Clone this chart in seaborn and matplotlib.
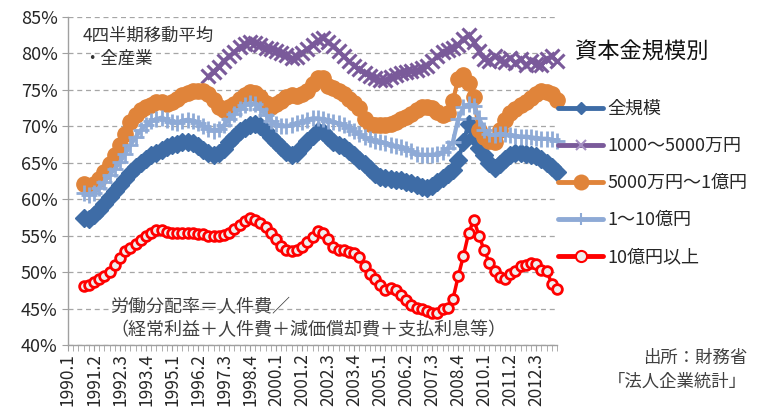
import matplotlib
matplotlib.use("Agg")
import pandas as pd
import matplotlib.pyplot as plt
import seaborn as sns
from matplotlib.lines import Line2D
from matplotlib.ticker import FuncFormatter, MultipleLocator

# 四半期ラベル（1990.1〜2013.3）
quarters = [f"{y}.{q}" for y in range(1990, 2014) for q in range(1, 5)][:95]

# 4四半期移動平均・全産業（%）
# 全規模: 1990.4〜
zenkibo = [57.4, 57.3, 57.8, 58.5, 59.4, 60.3, 61.1, 62.0, 62.8, 63.6,
           64.4, 65.0, 65.5, 66.0, 66.4, 66.8, 67.2, 67.4, 67.6, 67.8,
           67.9, 67.7, 67.3, 66.8, 66.3, 66.1, 66.3, 66.9, 67.8, 68.6,
           69.3, 69.8, 70.2, 70.3, 70.0, 69.4, 68.6, 67.8, 67.1, 66.5,
           66.1, 66.4, 67.2, 68.0, 68.7, 69.3, 69.2, 68.6, 67.9, 67.5,
           67.1, 66.6, 66.1, 65.4, 64.8, 64.1, 63.4, 63.1, 62.9, 62.8,
           62.7, 62.6, 62.4, 62.2, 62.0, 61.7, 61.5, 61.8, 62.3, 62.9,
           63.5, 64.0, 65.4, 67.8, 70.3, 68.5, 67.0, 66.0, 65.0, 64.3,
           64.8, 65.5, 66.0, 66.3, 66.3, 66.2, 66.0, 65.9, 65.5, 65.0,
           64.4, 63.8]

# 1000〜5000万円: 1996.4〜
sho = [76.9, 77.5, 78.2, 79.0, 79.6, 80.2, 80.9, 81.3, 81.6, 81.5,
       81.1, 80.8, 80.6, 80.3, 80.0, 79.8, 79.4, 79.5, 80.1, 80.6,
       81.2, 81.8, 82.1, 81.6, 81.0, 80.3, 79.6, 78.9, 78.3, 77.8,
       77.3, 76.9, 76.6, 76.4, 76.4, 76.7, 77.0, 77.3, 77.5, 77.6,
       77.7, 78.0, 78.3, 78.9, 79.6, 80.2, 80.5, 80.7, 81.2, 82.0,
       82.5, 81.6, 80.3, 79.3, 79.0, 79.6, 79.1, 78.8, 79.4, 78.7,
       79.2, 78.4, 79.0, 78.6, 78.4, 79.3, 79.6, 78.9]

# 5000万円〜1億円: 1990.4〜
chusho = [62.1, 61.8, 62.1, 62.8, 63.7, 64.8, 66.0, 67.5, 69.0, 70.6,
          71.6, 72.2, 72.6, 72.9, 73.3, 73.4, 73.0, 73.3, 73.8, 74.3,
          74.6, 74.8, 74.9, 74.9, 74.5, 73.6, 72.6, 72.3, 72.6, 73.1,
          73.7, 74.3, 74.7, 74.6, 74.0, 73.2, 72.7, 73.0, 73.5, 74.0,
          74.3, 74.2, 74.5, 74.9, 75.8, 76.6, 76.6, 75.6, 75.2, 74.9,
          74.5, 73.8, 73.2, 72.5, 71.0, 70.3, 70.2, 70.2, 70.2, 70.3,
          70.6, 71.0, 71.3, 71.7, 72.2, 72.6, 72.7, 72.5, 72.0, 71.6,
          71.8, 73.5, 76.5, 77.0, 76.0, 74.0, 69.5, 68.5, 68.0, 67.8,
          69.5, 70.9, 71.8, 72.4, 72.9, 73.4, 73.9, 74.4, 74.8, 74.7,
          74.4, 73.6]

# 1〜10億円: 1990.4〜
chuken = [60.8, 60.6, 60.9, 61.6, 62.4, 63.3, 64.2, 65.1, 66.2, 67.4,
          68.5, 69.5, 70.2, 70.7, 71.0, 71.2, 70.9, 70.6, 70.5, 70.8,
          70.9, 70.8, 70.5, 70.1, 69.7, 69.4, 69.6, 70.2, 71.0, 71.7,
          72.4, 72.9, 73.2, 73.1, 72.4, 71.6, 70.8, 70.3, 70.0, 70.0,
          70.2, 70.4, 70.6, 70.9, 71.1, 71.1, 71.0, 70.8, 70.6, 70.4,
          70.2, 69.8, 69.3, 68.9, 68.5, 68.2, 68.0, 67.9, 67.7, 67.5,
          67.3, 67.1, 66.9, 66.6, 66.2, 66.1, 66.1, 66.1, 66.2, 66.5,
          67.0, 67.9, 71.0, 72.6, 73.0, 72.8, 71.2, 69.5, 68.9, 68.8,
          69.0, 68.9, 68.8, 68.7, 68.6, 68.6, 68.5, 68.4, 68.3, 68.3,
          68.2, 68.0]

# 10億円以上: 1990.4〜
dai = [48.1, 48.2, 48.6, 49.0, 49.5, 50.0, 51.0, 52.0, 52.9, 53.3,
       53.9, 54.4, 54.9, 55.4, 55.8, 55.8, 55.5, 55.4, 55.4, 55.4,
       55.4, 55.3, 55.2, 55.2, 55.0, 54.9, 55.0, 55.1, 55.4, 55.9,
       56.4, 57.0, 57.4, 57.1, 56.7, 56.2, 55.4, 54.6, 53.6, 53.1,
       52.9, 53.1, 53.4, 54.1, 54.8, 55.7, 55.3, 54.5, 53.4, 53.1,
       53.1, 52.8, 52.6, 52.1, 50.8, 49.8, 49.0, 48.3, 47.6, 47.8,
       47.5, 46.8, 46.2, 45.5, 45.1, 45.0, 44.6, 44.4, 44.4, 45.0,
       45.1, 46.3, 49.4, 52.2, 55.3, 57.2, 55.0, 53.0, 51.3, 50.2,
       49.3, 49.0, 49.7, 50.2, 50.8, 51.0, 51.3, 51.1, 50.3, 50.2,
       48.4, 47.7]

labels = ["全規模", "1000〜5000万円", "5000万円〜1億円", "1〜10億円", "10億円以上"]
starts = ["1990.4", "1996.4", "1990.4", "1990.4", "1990.4"]
series = [zenkibo, sho, chusho, chuken, dai]

rows = []
for name, start, vals in zip(labels, starts, series):
    s = quarters.index(start)
    for i, v in enumerate(vals):
        rows.append({"系列": name, "pos": s + i, "四半期": quarters[s + i], "率": v})
df = pd.DataFrame(rows)

styles = {
    "全規模": dict(color="#3e6ca6", marker="D", markersize=9, mec="#3e6ca6",
                  mfc="#3e6ca6", mew=1, lw=3),
    "1000〜5000万円": dict(color="#7a5a9a", marker="x", markersize=10.5, mec="#7a5a9a",
                         mfc="#7a5a9a", mew=2.2, lw=3),
    "5000万円〜1億円": dict(color="#e0843a", marker="o", markersize=11, mec="#e0843a",
                          mfc="#e0843a", mew=1, lw=3),
    "1〜10億円": dict(color="#8eaad6", marker="+", markersize=11, mec="#8eaad6",
                    mfc="#8eaad6", mew=2, lw=3),
    "10億円以上": dict(color="#ff0000", marker="o", markersize=7, mec="#ff0000",
                     mfc="#eeeeee", mew=2, lw=2.5),
}

sns.set_style("white")
plt.rcParams["font.family"] = ["Noto Sans CJK JP", "DejaVu Sans"]

fig = plt.figure(figsize=(7.71, 4.12), dpi=100)
ax = fig.add_axes([68 / 771, 1 - 345 / 412, (557 - 68) / 771, (345 - 17) / 412])

for name in labels:
    st = styles[name]
    sub = df[df["系列"] == name]
    sns.lineplot(data=sub, x="pos", y="率", ax=ax, color=st["color"], marker=st["marker"],
                 markersize=st["markersize"], markeredgecolor=st["mec"],
                 markerfacecolor=st["mfc"], markeredgewidth=st["mew"], linewidth=st["lw"],
                 clip_on=False, legend=False)

ax.set_xlim(0, 94)
ax.set_ylim(40, 85)
ax.set_xticks(range(0, 95, 5))
ax.set_xticklabels(quarters[::5], rotation=90, fontsize=12.5)
ax.xaxis.set_minor_locator(MultipleLocator(1))
ax.yaxis.set_major_locator(MultipleLocator(5))
ax.yaxis.set_major_formatter(FuncFormatter(lambda v, p: f"{v:.0f}%"))
ax.tick_params(axis="y", labelsize=13, length=4, color="#a0a0a0", left=True)
ax.tick_params(axis="x", which="both", length=4, color="#a0a0a0", bottom=True, pad=2)
ax.set_xlabel("")
ax.set_ylabel("")
ax.grid(axis="y", linestyle=(0, (4, 3)), color="#a6a6a6", linewidth=0.9)
ax.set_axisbelow(True)
for side in ["top", "right"]:
    ax.spines[side].set_visible(False)
for side in ["left", "bottom"]:
    ax.spines[side].set_color("#a0a0a0")
    ax.spines[side].set_linewidth(1)

# 凡例
handles = []
for name in labels:
    st = styles[name]
    ms = {"全規模": 6, "1000〜5000万円": 7, "5000万円〜1億円": 10,
          "1〜10億円": 9, "10億円以上": 8}[name]
    handles.append(Line2D([], [], color=st["color"], marker=st["marker"], markersize=ms,
                          markeredgecolor=st["mec"] if name != "1000〜5000万円" else "#a58fc2",
                          markerfacecolor=st["mfc"], markeredgewidth=1.5 if name != "全規模" else 1,
                          linewidth=3.5))
fig.legend(handles=handles, labels=labels, loc="upper left",
           bbox_to_anchor=(558 / 771, 1 - 100 / 412), frameon=False, fontsize=13,
           handlelength=2.5, handletextpad=0.25, labelspacing=1.05, borderpad=0,
           borderaxespad=0)

fig.text(575 / 771, 1 - 52 / 412, "資本金規模別", fontsize=16, va="center", ha="left",
         color="#111111")
fig.text(83 / 771, 1 - 36 / 412, "4四半期移動平均", fontsize=12.5, va="center",
         color="#333333")
fig.text(83 / 771, 1 - 59 / 412, "・全産業", fontsize=12.5, va="center", color="#333333")
fig.text(110 / 771, 1 - 307 / 412, "労働分配率＝人件費／", fontsize=13, va="center",
         color="#404040")
fig.text(110 / 771, 1 - 330 / 412, "（経常利益＋人件費＋減価償却費＋支払利息等）",
         fontsize=13, va="center", color="#404040")
fig.text(747 / 771, 1 - 358 / 412, "出所：財務省", fontsize=12.5, va="center", ha="right",
         color="#404040")
fig.text(747 / 771, 1 - 382 / 412, "「法人企業統計」", fontsize=12.5, va="center", ha="right",
         color="#404040")

fig.savefig("out.png", dpi=100)
